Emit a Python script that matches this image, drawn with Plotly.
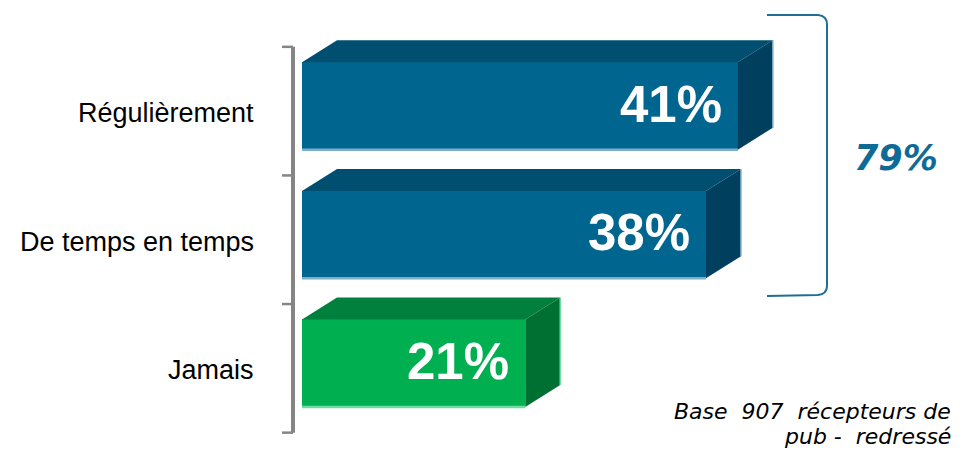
import plotly.graph_objects as go

categories = ["Régulièrement", "De temps en temps", "Jamais"]
values = [41, 38, 21]
value_labels = ["41%", "38%", "21%"]
total_label = "79%"
note_lines = ["Base  907  récepteurs de", "pub -  redressé"]

front_colors = ["#006690", "#006690", "#00b050"]
top_colors = ["#004f70", "#004f70", "#00803c"]
side_colors = ["#00405e", "#00405e", "#007032"]
edge_colors = ["#7eaec8", "#7eaec8", "#6fdca2"]

W, H = 960, 449
X0_PX, PX_PER_UNIT = 302, 10.63
Y0_PX, PX_PER_CAT = 106, 128.6
x_range = [-X0_PX / PX_PER_UNIT, (W - X0_PX) / PX_PER_UNIT]
y_range = [(H - Y0_PX) / PX_PER_CAT, -Y0_PX / PX_PER_CAT]

bar_w = 0.68
dx = 35 / PX_PER_UNIT
dy = 22 / PX_PER_CAT

ys = list(range(len(categories)))
fig = go.Figure()

fig.add_trace(go.Bar(
    y=ys, x=values, orientation="h", width=bar_w,
    marker=dict(color=front_colors, line=dict(width=0)),
    hoverinfo="skip", showlegend=False,
))

for i, v in enumerate(values):
    yt = i - bar_w / 2
    yb = i + bar_w / 2
    # top face
    fig.add_trace(go.Scatter(
        x=[0, v, v + dx, dx, 0], y=[yt, yt, yt - dy, yt - dy, yt],
        fill="toself", fillcolor=top_colors[i], mode="lines",
        line=dict(width=0, color=top_colors[i]), hoverinfo="skip", showlegend=False,
    ))
    # side face
    fig.add_trace(go.Scatter(
        x=[v, v + dx, v + dx, v, v], y=[yt, yt - dy, yb - dy, yb, yt],
        fill="toself", fillcolor=side_colors[i], mode="lines",
        line=dict(width=0, color=side_colors[i]), hoverinfo="skip", showlegend=False,
    ))
    # light bottom edge
    fig.add_shape(type="line", xref="x", yref="y", x0=0, x1=v, y0=yb, y1=yb,
                  line=dict(color=edge_colors[i], width=2.5))
    fig.add_shape(type="line", xref="x", yref="y", x0=v + dx, x1=v + dx, y0=yt - dy, y1=yb - dy,
                  line=dict(color=edge_colors[i], width=1.5))
    # value label
    fig.add_annotation(x=v, y=i, xref="x", yref="y", text=value_labels[i],
                       showarrow=False, xanchor="right", yanchor="middle", xshift=-14, yshift=2,
                       font=dict(family="Liberation Sans", size=51, color="white", weight="bold"))
    # category label
    fig.add_annotation(x=256 / W, y=i, xref="paper", yref="y", text=categories[i],
                       showarrow=False, xanchor="right", yanchor="middle", yshift=-7,
                       font=dict(family="Liberation Sans", size=27, color="black"))

# left axis line with ticks
axis_x = 293 / W
tick_ys = [i - 0.5 + 0.04 for i in range(len(categories) + 1)]
fig.add_shape(type="line", xref="paper", yref="y", x0=axis_x, x1=axis_x,
              y0=tick_ys[0], y1=tick_ys[-1], line=dict(color="#858585", width=4))
for t in tick_ys:
    fig.add_shape(type="line", xref="paper", yref="y", x0=282 / W, x1=axis_x, y0=t, y1=t,
                  line=dict(color="#858585", width=2.5))

# bracket
fig.add_shape(type="path", xref="paper", yref="paper",
              path=(f"M {767/W} {1-15/H} L {818/W} {1-15/H} Q {827/W} {1-16/H} {827/W} {1-24/H} "
                    f"L {827/W} {1-286/H} Q {827/W} {1-294/H} {818/W} {1-295/H} L {767/W} {1-296/H}"),
              line=dict(color="#1f6e96", width=2))

fig.add_annotation(x=896 / W, y=1 - 158 / H, xref="paper", yref="paper", text=f"<i>{total_label}</i>",
                   showarrow=False, xanchor="center", yanchor="middle",
                   font=dict(family="DejaVu Sans", size=35, color="#0e6a96", weight="bold"))

for k, line in enumerate(note_lines):
    fig.add_annotation(x=953 / W, y=1 - (411 + 25 * k) / H, xref="paper", yref="paper",
                       text=f"<i>{line}</i>",
                       showarrow=False, xanchor="right", yanchor="middle", align="right",
                       font=dict(family="DejaVu Sans", size=22, color="black"))

fig.update_layout(
    width=W, height=H, margin=dict(l=0, r=0, t=0, b=0),
    paper_bgcolor="white", plot_bgcolor="white",
    xaxis=dict(range=x_range, visible=False, fixedrange=True),
    yaxis=dict(range=y_range, visible=False, fixedrange=True),
    bargap=0, showlegend=False,
)

fig.write_html("out.html")
